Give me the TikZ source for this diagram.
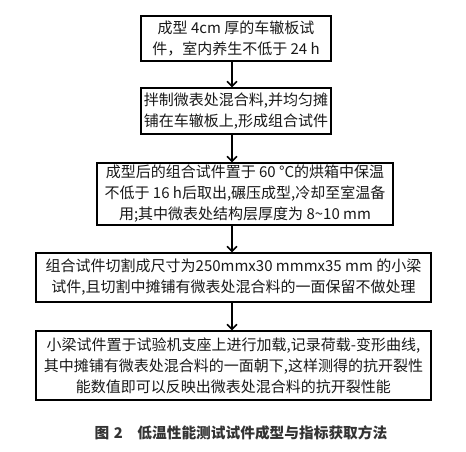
\documentclass[tikz,border=0pt]{standalone}
\usepackage{fontspec}
\setmainfont{Noto Sans CJK SC}
\newfontfamily\cjk{Noto Sans CJK SC}
\usetikzlibrary{arrows.meta}
\tikzset{
  stepbox/.style={draw=black, line width=1.3pt, inner sep=0pt, align=center,
    font=\cjk\fontsize{15}{21}\selectfont, text=black!90},
  flowarrow/.style={line width=1.5pt, -{Straight Barb[length=5pt,width=10pt,line width=1.5pt]}}
}
\begin{document}
\begin{tikzpicture}[x=1pt,y=-1pt]
\useasboundingbox[fill=white] (0,0) rectangle (466,452);
\node[stepbox, minimum width=190pt, minimum height=45pt] (b1) at (236,38.5)
  {成型 4cm 厚的车辙板试\\件，室内养生不低于 24 h};
\node[stepbox, minimum width=190pt, minimum height=46pt] (b2) at (236,111)
  {拌制微表处混合料,并均匀摊\\铺在车辙板上,形成组合试件};
\node[stepbox, minimum width=296pt, minimum height=62pt] (b3) at (245,194)
  {成型后的组合试件置于 60 °C的烘箱中保温\\不低于 16 h后取出,碾压成型,冷却至室温备\\用;其中微表处结构层厚度为 8\textasciitilde 10 mm};
\node[stepbox, minimum width=395pt, minimum height=49pt] (b4) at (233.5,277.5)
  {组合试件切割成尺寸为250mmx30 mmmx35 mm 的小梁\\试件,且切割中摊铺有微表处混合料的一面保留不做处理};
\node[stepbox, minimum width=395pt, minimum height=69pt] (b5) at (233.5,365.5)
  {小梁试件置于试验机支座上进行加载,记录荷载-变形曲线,\\其中摊铺有微表处混合料的一面朝下,这样测得的抗开裂性\\能数值即可以反映出微表处混合料的抗开裂性能};
\coordinate (ax) at (232,0);
\draw[flowarrow] (b1.south -| ax) -- (b2.north -| ax);
\draw[flowarrow] (b2.south -| ax) -- (b3.north -| ax);
\draw[flowarrow] (b3.south -| ax) -- (b4.north -| ax);
\draw[flowarrow] (b4.south -| ax) -- (b5.north -| ax);
\node[font=\cjk\bfseries\fontsize{14.7}{16}\selectfont, text=black!80] (cap) at (241,433)
  {图\hspace{0.3em}2\hspace{1em}低温性能测试试件成型与指标获取方法};
\end{tikzpicture}
\end{document}
